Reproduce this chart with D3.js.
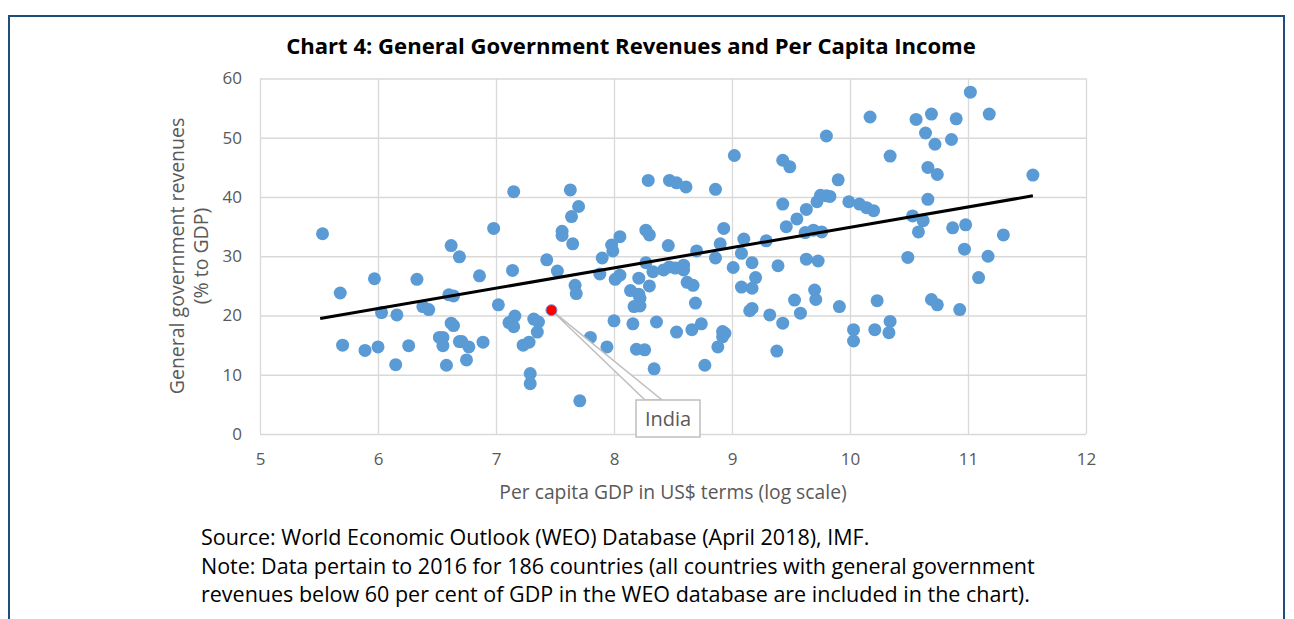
<!DOCTYPE html>
<html>
    <head>
        <script src="https://d3js.org/d3.v7.min.js"></script>
        <style>
            body { margin: 0; background: #fff; }
            text { font-family: "Open Sans", Lato, sans-serif; }
        </style>
    </head>
    <body>
        <svg width="1294" height="619"></svg>
        <script>
            // per capita GDP (log) and revenues (% of GDP)
            const gdpLog = [
                5.53, 5.68, 5.70, 5.89, 5.97, 6.00, 6.03, 6.15, 6.16, 6.26,
                6.33, 6.38, 6.43, 6.52, 6.55, 6.55, 6.58, 6.60, 6.64, 6.62,
                6.64, 6.62, 6.69, 6.69, 6.71, 6.77, 6.75, 6.86, 6.89, 6.98,
                7.02, 7.14, 7.15, 7.16, 7.11, 7.15, 7.23, 7.28, 7.29, 7.29,
                7.32, 7.36, 7.35, 7.43, 7.52, 7.56, 7.56, 7.63, 7.64, 7.70,
                7.65, 7.67, 7.68, 7.71, 7.80, 7.94, 7.88, 7.90, 7.98, 7.99,
                8.00, 8.01, 8.05, 8.05, 8.14, 8.16, 8.17, 8.19, 8.21, 8.22,
                8.22, 8.21, 8.26, 8.27, 8.27, 8.29, 8.30, 8.30, 8.33, 8.34,
                8.36, 8.42, 8.46, 8.47, 8.47, 8.52, 8.53, 8.53, 8.59, 8.59,
                8.61, 8.62, 8.66, 8.67, 8.69, 8.70, 8.74, 8.77, 8.86, 8.86,
                8.88, 8.90, 8.92, 8.94, 8.92, 8.93, 9.01, 9.02, 9.08, 9.10,
                9.08, 9.17, 9.15, 9.17, 9.17, 9.20, 9.29, 9.32, 9.38, 9.39,
                9.43, 9.49, 9.43, 9.43, 9.46, 9.53, 9.55, 9.58, 9.62, 9.63,
                9.63, 9.69, 9.70, 9.71, 9.72, 9.73, 9.75, 9.76, 9.80, 9.83,
                9.80, 9.90, 9.91, 9.99, 10.03, 10.03, 10.08, 10.14, 10.17, 10.20,
                10.21, 10.23, 10.33, 10.34, 10.34, 10.49, 10.53, 10.56, 10.58, 10.62,
                10.64, 10.66, 10.66, 10.69, 10.69, 10.72, 10.74, 10.74, 10.86, 10.87,
                10.90, 10.93, 10.97, 10.98, 11.02, 11.09, 11.17, 11.18, 11.30, 11.55
            ];
            const revenue = [
                33.8, 23.8, 15.0, 14.1, 26.2, 14.7, 20.5, 11.7, 20.1, 14.9,
                26.1, 21.5, 21.0, 16.3, 16.3, 14.9, 11.6, 23.5, 23.3, 18.7,
                18.3, 31.8, 29.9, 15.6, 15.6, 14.7, 12.5, 26.7, 15.5, 34.7,
                21.8, 27.6, 40.9, 19.9, 18.8, 18.1, 15.0, 15.5, 10.2, 8.5,
                19.4, 18.9, 17.2, 29.4, 27.5, 34.2, 33.5, 41.2, 36.7, 38.4,
                32.1, 25.1, 23.7, 5.6, 16.3, 14.7, 27.0, 29.7, 31.9, 30.9,
                19.1, 26.1, 26.8, 33.3, 24.2, 18.6, 21.5, 14.3, 23.6, 22.9,
                21.6, 26.3, 14.2, 28.9, 34.4, 42.8, 33.6, 25.0, 27.4, 11.0,
                18.9, 27.7, 31.8, 28.2, 42.8, 28.0, 42.4, 17.2, 28.5, 27.7,
                41.7, 25.6, 17.6, 25.1, 22.1, 30.9, 18.6, 11.6, 41.3, 29.7,
                14.7, 32.1, 17.3, 17.0, 16.4, 34.7, 28.1, 47.0, 30.5, 32.9,
                24.8, 24.6, 20.8, 21.2, 28.9, 26.4, 32.6, 20.1, 14.0, 28.4,
                46.2, 45.1, 38.8, 18.7, 35.0, 22.6, 36.3, 20.4, 34.0, 37.9,
                29.5, 34.4, 24.3, 22.7, 39.2, 29.2, 40.3, 34.1, 40.2, 40.1,
                50.3, 42.9, 21.5, 39.2, 17.6, 15.7, 38.8, 38.2, 53.5, 37.7,
                17.6, 22.5, 17.1, 19.0, 46.9, 29.8, 36.8, 53.1, 34.1, 36.0,
                50.8, 45.0, 39.6, 54.0, 22.7, 48.9, 43.8, 21.8, 49.7, 34.8,
                53.2, 21.0, 31.2, 35.3, 57.7, 26.4, 30.0, 54.0, 33.6, 43.7
            ];
            const india = { gdpLog: 7.47, revenue: 20.9, label: "India" };
            const trendX = [5.51, 11.55];
            const trendY = [19.5, 40.2];
            const xTicks = [5, 6, 7, 8, 9, 10, 11, 12];
            const yTicks = [0, 10, 20, 30, 40, 50, 60];

            const points = gdpLog.map((g, i) => ({ x: g, y: revenue[i] }));

            let svg = d3.select("svg");

            // outer frame
            svg.append("rect")
                .attr("x", 9).attr("y", 16)
                .attr("width", 1275).attr("height", 640)
                .attr("fill", "none")
                .attr("stroke", "#1f4e79")
                .attr("stroke-width", 2);

            let xScale = d3.scaleLinear().domain([5, 12]).range([260, 1086]);
            let yScale = d3.scaleLinear().domain([0, 60]).range([434, 78.5]);

            // gridlines
            let xGrid = d3.axisBottom(xScale).tickValues(xTicks)
                .tickSize(-(434 - 78.5)).tickFormat("");
            svg.append("g").attr("class", "grid")
                .attr("transform", "translate(0,434)").call(xGrid);
            let yGrid = d3.axisLeft(yScale).tickValues(yTicks)
                .tickSize(-(1086 - 260)).tickFormat("");
            svg.append("g").attr("class", "grid")
                .attr("transform", "translate(260,0)").call(yGrid);
            svg.selectAll(".grid line").attr("stroke", "#d9d9d9").attr("stroke-width", 1.3);
            svg.selectAll(".grid .domain").remove();

            // tick labels
            let xAxis = d3.axisBottom(xScale).tickValues(xTicks).tickSize(0)
                .tickPadding(19).tickFormat(d3.format("d"));
            let gx = svg.append("g").attr("transform", "translate(0,434)").call(xAxis);
            let yAxis = d3.axisLeft(yScale).tickValues(yTicks).tickSize(0)
                .tickPadding(18).tickFormat(d3.format("d"));
            let gy = svg.append("g").attr("transform", "translate(260,0)").call(yAxis);
            [gx, gy].forEach(g => {
                g.select(".domain").remove();
                g.selectAll("text")
                    .attr("fill", "#595959")
                    .style("font-size", "17px")
                    .style("font-family", "'Open Sans', sans-serif");
            });

            // data points
            svg.append("g").selectAll("circle").data(points).join("circle")
                .attr("cx", d => xScale(d.x))
                .attr("cy", d => yScale(d.y))
                .attr("r", 6.5)
                .attr("fill", "#5b9bd5");

            // trend line
            let lineGen = d3.line()
                .x(d => xScale(d[0]))
                .y(d => yScale(d[1]));
            svg.append("path")
                .datum(trendX.map((x, i) => [x, trendY[i]]))
                .attr("fill", "none")
                .attr("stroke", "#000")
                .attr("stroke-width", 3)
                .attr("d", lineGen);

            // India callout
            let ix = xScale(india.gdpLog), iy = yScale(india.revenue);
            let boxX = 636, boxY = 400, boxW = 64, boxH = 37;
            svg.append("path")
                .attr("d", `M${ix},${iy} L${boxX + 9},${boxY} L${boxX + 26},${boxY} Z`)
                .attr("fill", "#fff")
                .attr("stroke", "#bfbfbf")
                .attr("stroke-width", 1.5);
            svg.append("rect")
                .attr("x", boxX).attr("y", boxY)
                .attr("width", boxW).attr("height", boxH)
                .attr("fill", "#fff")
                .attr("stroke", "#bfbfbf")
                .attr("stroke-width", 1.5);
            svg.append("text")
                .attr("x", boxX + boxW / 2).attr("y", boxY + 26)
                .attr("text-anchor", "middle")
                .attr("fill", "#595959")
                .style("font-size", "20px")
                .text(india.label);
            svg.append("circle")
                .attr("cx", ix).attr("cy", iy)
                .attr("r", 5.5)
                .attr("fill", "#ff0000")
                .attr("stroke", "#5b9bd5")
                .attr("stroke-width", 1);

            // title
            svg.append("text")
                .attr("x", 631).attr("y", 54)
                .attr("text-anchor", "middle")
                .style("font-size", "22.1px")
                .style("font-weight", "bold")
                .text("Chart 4: General Government Revenues and Per Capita Income");

            // axis titles
            let yTitle = svg.append("text")
                .attr("transform", "translate(184,256) rotate(-90)")
                .attr("text-anchor", "middle")
                .attr("fill", "#595959")
                .style("font-size", "19.5px");
            yTitle.append("tspan").attr("x", 0).attr("dy", 0).text("General government revenues");
            yTitle.append("tspan").attr("x", 0).attr("dy", 24).text("(% to GDP)");

            svg.append("text")
                .attr("x", 673).attr("y", 499)
                .attr("text-anchor", "middle")
                .attr("fill", "#595959")
                .style("font-size", "19.3px")
                .text("Per capita GDP in US$ terms (log scale)");

            // source and note
            const notes = [
                "Source: World Economic Outlook (WEO) Database (April 2018), IMF.",
                "Note: Data pertain to 2016 for 186 countries (all countries with general government",
                "revenues below 60 per cent of GDP in the WEO database are included in the chart)."
            ];
            svg.append("g").selectAll("text").data(notes).join("text")
                .attr("x", 201)
                .attr("y", (d, i) => 545 + i * 28.5)
                .attr("fill", "#000")
                .style("font-size", "21.5px")
                .text(d => d);
        </script>
    </body>
</html>
